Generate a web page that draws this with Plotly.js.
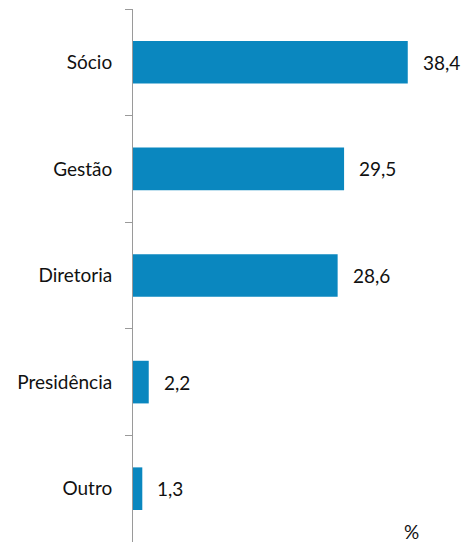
<!DOCTYPE html>
<html><head><meta charset="utf-8">
<script src="https://cdn.plot.ly/plotly-3.0.1.min.js"></script>
<style>html,body{margin:0;padding:0;background:#fff}#chart{width:465px;height:542px}</style>
</head><body><div id="chart"></div>
<script>
const categories = ["Sócio", "Gestão", "Diretoria", "Presidência", "Outro"];
const values = [38.4, 29.5, 28.6, 2.2, 1.3];
const valueLabels = ["38,4", "29,5", "28,6", "2,2", "1,3"];
const unitLabel = "%";

const fontFam = "Lato, 'Open Sans', sans-serif";
const fsize = 19;
const annotations = categories.map((c, i) => ({
  x: values[i], y: c, xref: "x", yref: "y", text: valueLabels[i],
  showarrow: false, xanchor: "left", xshift: 13,
  font: {family: fontFam, size: fsize, color: "#111"}
}));
annotations.push({
  xref: "paper", yref: "paper",
  x: (411 - 133) / (465 - 133), y: (542 - 531) / (542 - 9),
  xanchor: "center", yanchor: "middle",
  text: unitLabel, showarrow: false,
  font: {family: fontFam, size: fsize, color: "#111"}
});

Plotly.newPlot("chart", [{
  type: "bar", orientation: "h", x: values, y: categories,
  marker: {color: "#0A87BF"}, width: 0.4, hoverinfo: "none"
}], {
  width: 465, height: 542,
  margin: {l: 133, r: 0, t: 9, b: 0, pad: 0},
  paper_bgcolor: "#fff", plot_bgcolor: "#fff",
  showlegend: false,
  xaxis: {range: [0, 46.4], visible: false, fixedrange: true},
  yaxis: {
    type: "category", autorange: "reversed", showline: true, linecolor: "#9a9a9a", linewidth: 1,
    ticks: "outside", ticklen: 7, tickcolor: "#9a9a9a", tickson: "boundaries",
    showgrid: false, zeroline: false, ticklabelstandoff: 16,
    tickfont: {family: fontFam, size: fsize, color: "#111"}
  },
  annotations: annotations
}, {staticPlot: true});
</script></body></html>
